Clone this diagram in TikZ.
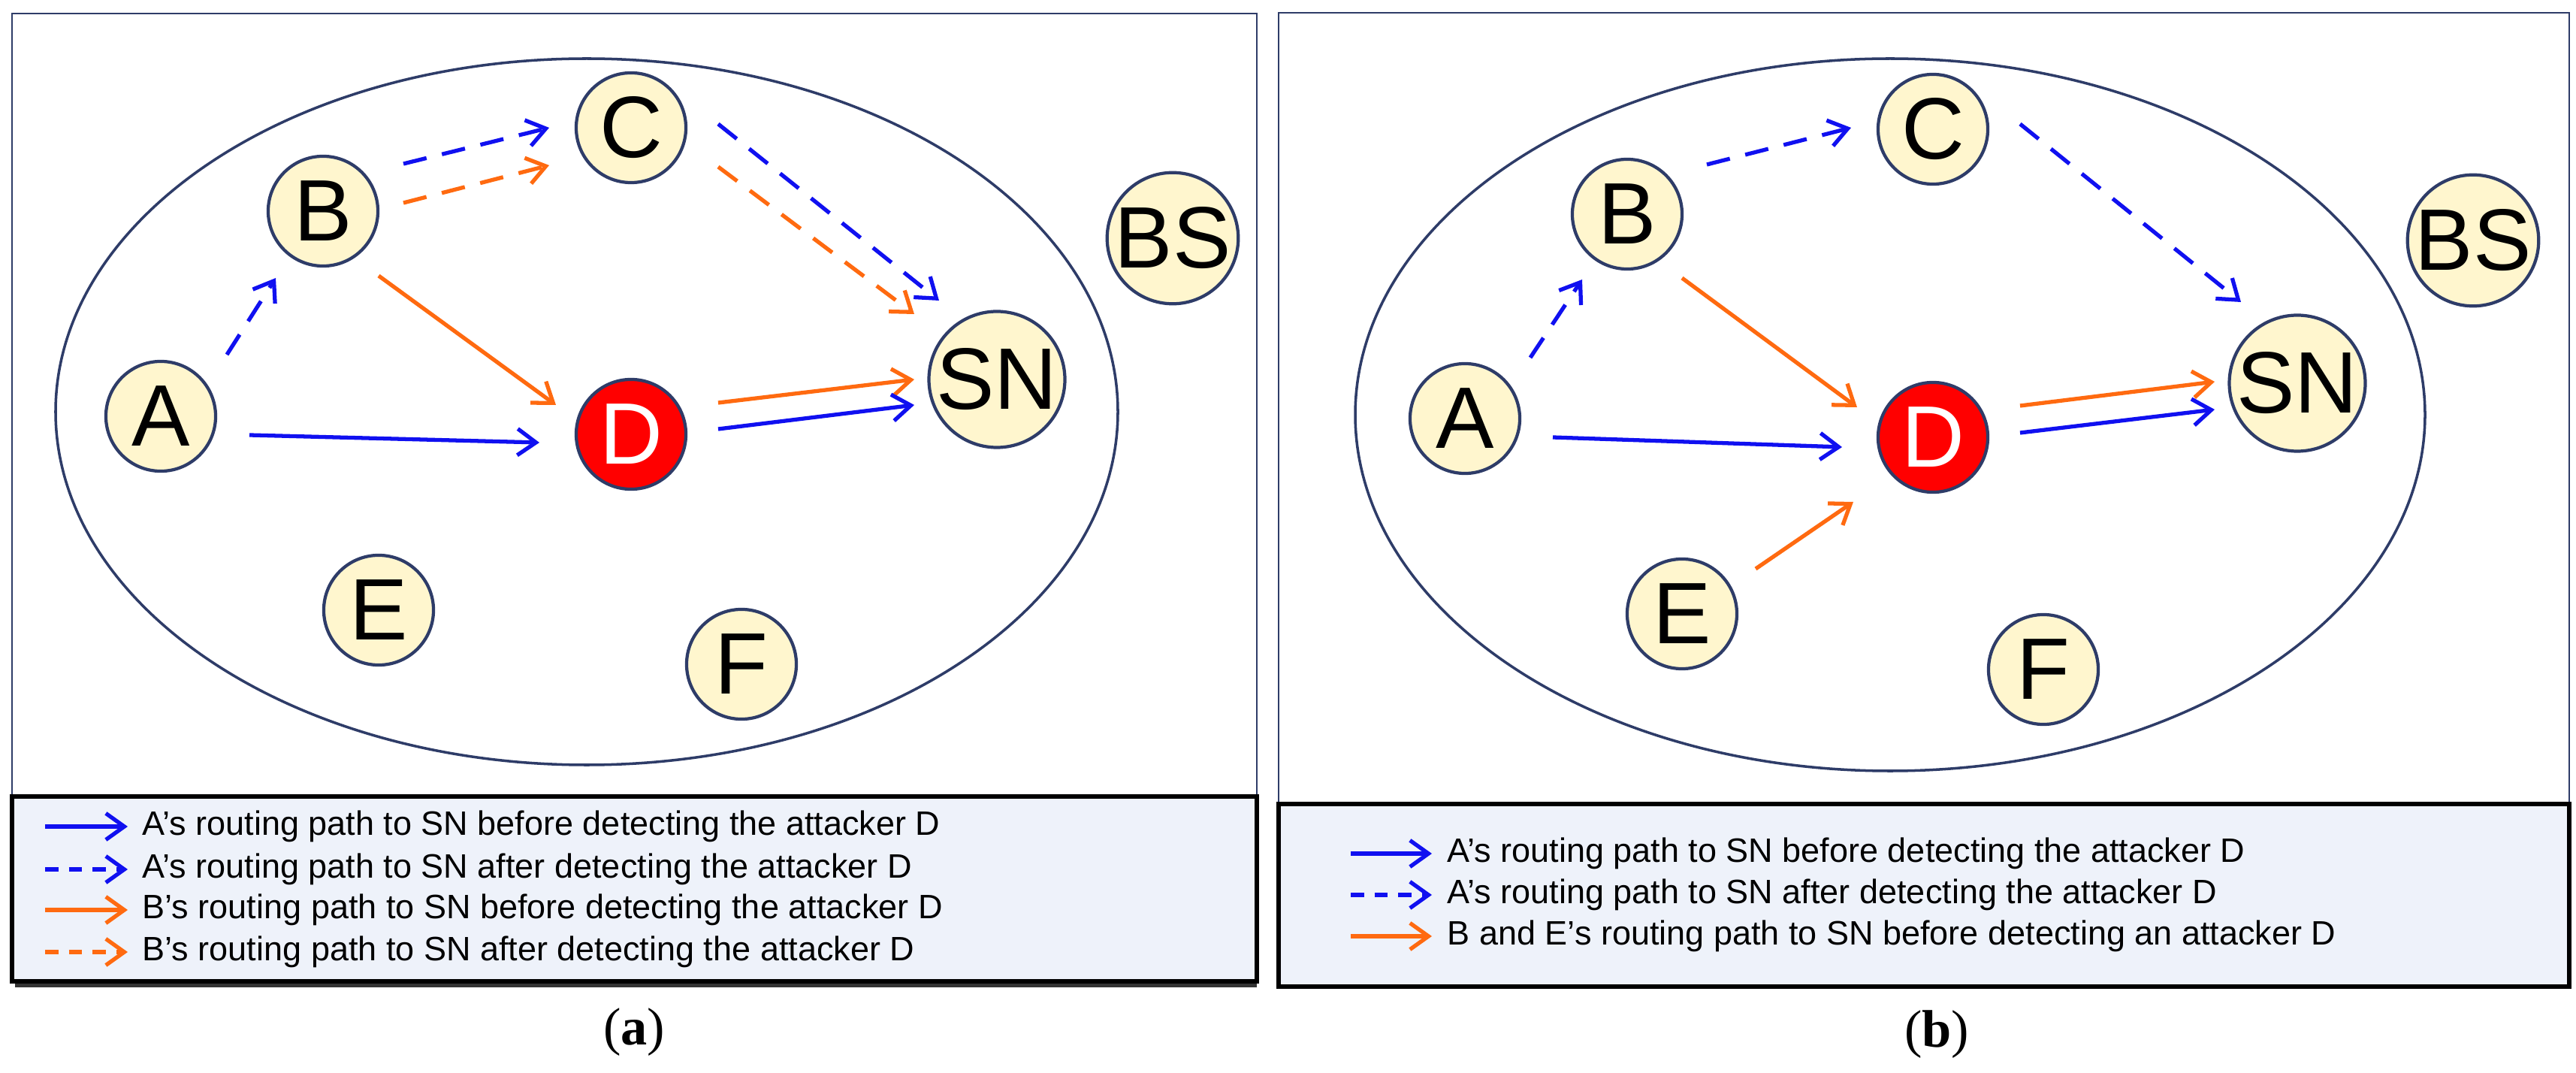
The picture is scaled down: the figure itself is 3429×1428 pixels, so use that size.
\documentclass[tikz,border=0pt]{standalone}
\usepackage{fontspec}
\setmainfont{Liberation Serif}
\newfontfamily\sansf{Liberation Sans}
\usetikzlibrary{arrows.meta}
\definecolor{nfill}{HTML}{FFF6CE}
\definecolor{nline}{HTML}{2E3C68}
\definecolor{myblue}{HTML}{1010F0}
\definecolor{myorange}{HTML}{FF6A10}
\definecolor{legbg}{HTML}{EEF2FA}
\begin{document}
\begin{tikzpicture}[x=0.01cm,y=-0.01cm,
  nd/.style={circle,draw=nline,line width=1.2pt,fill=nfill,minimum size=1.46cm,inner sep=0pt,font=\sansf\fontsize{33}{33}\selectfont},
  att/.style={nd,fill=red,text=white},
  ar/.style={line width=1.5pt,-{Straight Barb[length=7pt,width=10pt,line width=1.5pt]}},
  bl/.style={ar,myblue},
  og/.style={ar,myorange},
  ds/.style={dash pattern=on 9pt off 6pt},
  panel/.style={draw=nline,line width=0.8pt},
  leg/.style={draw=black,line width=1.6pt,fill=legbg},
  lt/.style={anchor=west,font=\sansf\fontsize{12.8}{12.8}\selectfont,inner sep=0pt},
  captext/.style={font=\fontsize{20}{20}\selectfont}]
\useasboundingbox (0,0) rectangle (3429,1428);
% ---------- panel (a)
\draw[panel] (16,18) rectangle (1673,1306);
\draw[nline,line width=1pt] (781,548) ellipse [x radius=707,y radius=470];
\node[nd] (A) at (214,554) {A};
\node[nd] (B) at (430,281) {B};
\node[nd] (C) at (840,170) {C};
\node[att] (D) at (840,578) {D};
\node[nd] (SN) at (1327,505) {SN};
\node[nd] (BS) at (1561,317) {BS};
\node[nd] (E) at (504,812) {E};
\node[nd] (F) at (987,884) {F};
\coordinate (a1) at (302,472); \coordinate (a2) at (367,370);
\coordinate (a3) at (537,218); \coordinate (a4) at (731,170);
\coordinate (a5) at (537,270); \coordinate (a6) at (731,220);
\coordinate (a7) at (956,165); \coordinate (a8) at (1250,400);
\coordinate (a9) at (956,222); \coordinate (a10) at (1217,418);
\coordinate (a11) at (504,367); \coordinate (a12) at (740,539);
\coordinate (a13) at (332,579); \coordinate (a14) at (718,589);
\coordinate (a15) at (956,536); \coordinate (a16) at (1217,505);
\coordinate (a17) at (956,571); \coordinate (a18) at (1217,539);
\draw[bl,ds] (a1) -- (a2);
\draw[bl,ds] (a3) -- (a4);
\draw[og,ds] (a5) -- (a6);
\draw[bl,ds] (a7) -- (a8);
\draw[og,ds] (a9) -- (a10);
\draw[og] (a11) -- (a12);
\draw[bl] (a13) -- (a14);
\draw[og] (a15) -- (a16);
\draw[bl] (a17) -- (a18);
\draw[black!80,line width=3pt] (20,1309) -- (1673,1309);
\draw[leg] (16,1060) rectangle (1673,1306);
\coordinate (la1) at (60,1100); \coordinate (la2) at (170,1100);
\coordinate (lb1) at (60,1157); \coordinate (lb2) at (170,1157);
\coordinate (lc1) at (60,1211); \coordinate (lc2) at (170,1211);
\coordinate (ld1) at (60,1267); \coordinate (ld2) at (170,1267);
\draw[bl] (la1) -- (la2);
\draw[bl,dash pattern=on 5pt off 4pt] (lb1) -- (lb2);
\draw[og] (lc1) -- (lc2);
\draw[og,dash pattern=on 5pt off 4pt] (ld1) -- (ld2);
\node[lt] (ta) at (189,1100) {A’s routing path to SN before detecting the attacker D};
\node[lt] (tb) at (189,1157) {A’s routing path to SN after detecting the attacker D};
\node[lt] (tc) at (189,1211) {B’s routing path to SN before detecting the attacker D};
\node[lt] (td) at (189,1267) {B’s routing path to SN after detecting the attacker D};
\node[captext] (capa) at (844,1374) {(\textbf{a})};
% ---------- panel (b)
\draw[panel] (1702,17) rectangle (3420,1313);
\draw[nline,line width=1pt] (2516,552) ellipse [x radius=712,y radius=474];
\node[nd] (A2) at (1950,557) {A};
\node[nd] (B2) at (2166,285) {B};
\node[nd] (C2) at (2573,172) {C};
\node[att] (D2) at (2573,582) {D};
\node[nd] (SN2) at (3058,510) {SN};
\node[nd] (BS2) at (3292,320) {BS};
\node[nd] (E2) at (2239,817) {E};
\node[nd] (F2) at (2720,891) {F};
\coordinate (b1) at (2037,476); \coordinate (b2) at (2106,372);
\coordinate (b3) at (2272,219); \coordinate (b4) at (2464,170);
\coordinate (b5) at (2689,165); \coordinate (b6) at (2983,402);
\coordinate (b7) at (2239,370); \coordinate (b8) at (2472,542);
\coordinate (b9) at (2067,582); \coordinate (b10) at (2452,595);
\coordinate (b11) at (2689,540); \coordinate (b12) at (2948,508);
\coordinate (b13) at (2689,576); \coordinate (b14) at (2948,545);
\coordinate (b15) at (2337,757); \coordinate (b16) at (2467,668);
\draw[bl,ds] (b1) -- (b2);
\draw[bl,ds] (b3) -- (b4);
\draw[bl,ds] (b5) -- (b6);
\draw[og] (b7) -- (b8);
\draw[bl] (b9) -- (b10);
\draw[og] (b11) -- (b12);
\draw[bl] (b13) -- (b14);
\draw[og] (b15) -- (b16);
\draw[leg] (1702,1070) rectangle (3420,1313);
\coordinate (lf1) at (1798,1136); \coordinate (lf2) at (1906,1136);
\coordinate (lg1) at (1798,1191); \coordinate (lg2) at (1906,1191);
\coordinate (lh1) at (1798,1246); \coordinate (lh2) at (1906,1246);
\draw[bl] (lf1) -- (lf2);
\draw[bl,dash pattern=on 5pt off 4pt] (lg1) -- (lg2);
\draw[og] (lh1) -- (lh2);
\node[lt] (tf) at (1926,1136) {A’s routing path to SN before detecting the attacker D};
\node[lt] (tg) at (1926,1191) {A’s routing path to SN after detecting the attacker D};
\node[lt] (th) at (1926,1246) {B and E’s routing path to SN before detecting an attacker D};
\node[captext] (capb) at (2578,1377) {(\textbf{b})};
\end{tikzpicture}
\end{document}
